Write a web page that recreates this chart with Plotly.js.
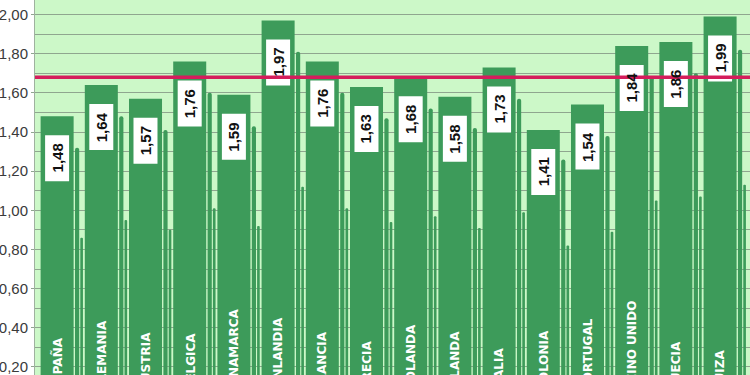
<!DOCTYPE html>
<html><head><meta charset="utf-8">
<script src="https://cdn.plot.ly/plotly-3.0.1.min.js"></script>
<style>
html,body{margin:0;padding:0;overflow:hidden;width:750px;height:375px;background:#ffffff}
#chart{position:absolute;left:0;top:-15px;width:760px;height:431px}
</style>
</head><body><div id="chart"></div>
<script>
// ---- data ----
const CATEGORIES = ['ESPAÑA','ALEMANIA','AUSTRIA','BÉLGICA','DINAMARCA','FINLANDIA','FRANCIA','GRECIA',
                    'HOLANDA','IRLANDA','ITALIA','POLONIA','PORTUGAL','REINO UNIDO','SUECIA','SUIZA'];
const VALUES = [1.48,1.64,1.57,1.76,1.59,1.97,1.76,1.63,1.68,1.58,1.73,1.41,1.54,1.84,1.86,1.99];
const VALUE_LABELS = ['1,48','1,64','1,57','1,76','1,59','1,97','1,76','1,63','1,68','1,58','1,73','1,41','1,54','1,84','1,86','1,99'];
// thin "shadow" strips drawn right of every bar (heights)
const SHADOW_VALUES = [1.32,1.48,1.41,1.60,1.43,1.81,1.60,1.47,1.52,1.42,1.57,1.26,1.38,1.68,1.70,1.82];
// low ghost strips in the lower part of the chart (estimated)
const GHOST_VALUES = [0.86,0.95,0.90,1.01,0.92,1.12,1.01,0.94,0.97,0.91,0.99,0.82,0.89,1.05,1.07,1.13];
const REFERENCE_LINE = 1.68;
const Y_TICKS = [0.2,0.4,0.6,0.8,1.0,1.2,1.4,1.6,1.8,2.0];
const Y_TICK_LABELS = ['0,20','0,40','0,60','0,80','1,00','1,20','1,40','1,60','1,80','2,00'];

// ---- styles ----
const BAR = '#3d9b5a';
const BG = '#ccf8c8';
const GRID = '#8fa68f';
const RED = '#d51d5c';
const FONT = 'Liberation Sans, Arial, sans-serif';
const CAT_FONT = 'DejaVu Sans, Verdana, sans-serif';

const traces = [
  {type:'bar', x:CATEGORIES, y:GHOST_VALUES, offset:0.525, width:0.06,
   marker:{color:BAR, line:{width:0}, cornerradius:1}, hoverinfo:'skip'},
  {type:'bar', x:CATEGORIES, y:SHADOW_VALUES, offset:0.405, width:0.095,
   marker:{color:BAR, line:{width:0}, cornerradius:2}, hoverinfo:'skip'},
  {type:'bar', x:CATEGORIES, y:VALUES, offset:-0.373, width:0.747,
   marker:{color:BAR, line:{width:0}}, hoverinfo:'skip'}
];

// white label boxes below each bar top, then the reference line above them
const shapes = VALUES.map((v,i)=>({
  type:'rect', xref:'x', yref:'y', layer:'above',
  xsizemode:'pixel', xanchor:i, x0:-12, x1:12,
  ysizemode:'pixel', yanchor:v, y0:-19, y1:-65,
  fillcolor:'#ffffff', line:{width:0}
}));
shapes.push({type:'line', xref:'paper', yref:'y', x0:0, x1:1, y0:REFERENCE_LINE, y1:REFERENCE_LINE,
  layer:'above', line:{color:RED, width:3.5}});

const annotations = VALUES.map((v,i)=>({
  x:CATEGORIES[i], y:v, xref:'x', yref:'y', xanchor:'center', yanchor:'middle', yshift:-42,
  text:VALUE_LABELS[i], textangle:-90, showarrow:false,
  font:{family:FONT, size:15, color:'#111111', weight:'bold'}
})).concat(CATEGORIES.map(c=>({
  x:c, y:0.066, xref:'x', yref:'y', xanchor:'center', yanchor:'bottom',
  text:c, textangle:-90, showarrow:false,
  font:{family:CAT_FONT, size:12, color:'#ffffff', weight:'bold'}
})));

const layout = {
  width:760, height:431,
  margin:{l:35, r:9, t:10, b:10},
  paper_bgcolor:'#ffffff', plot_bgcolor:BG,
  barmode:'overlay', showlegend:false, hovermode:false,
  font:{family:FONT},
  xaxis:{range:[-0.5,15.7], showticklabels:false, ticks:'', showgrid:false, zeroline:false, showline:false},
  yaxis:{range:[0,2.1], tickmode:'array', tickvals:Y_TICKS, ticktext:Y_TICK_LABELS,
         ticks:'outside', ticklen:3, tickcolor:GRID, showline:true, linecolor:'#9fb29f', linewidth:1,
         showgrid:true, gridcolor:GRID, gridwidth:1, zeroline:false,
         tickfont:{family:FONT, size:15, color:'#3a3a3a'},
         minor:{tickmode:'linear', tick0:0, dtick:0.1, showgrid:true, gridcolor:GRID, gridwidth:1, ticks:''}},
  shapes:shapes, annotations:annotations
};
Plotly.newPlot('chart', traces, layout, {staticPlot:true, displayModeBar:false});
</script>
</body></html>
